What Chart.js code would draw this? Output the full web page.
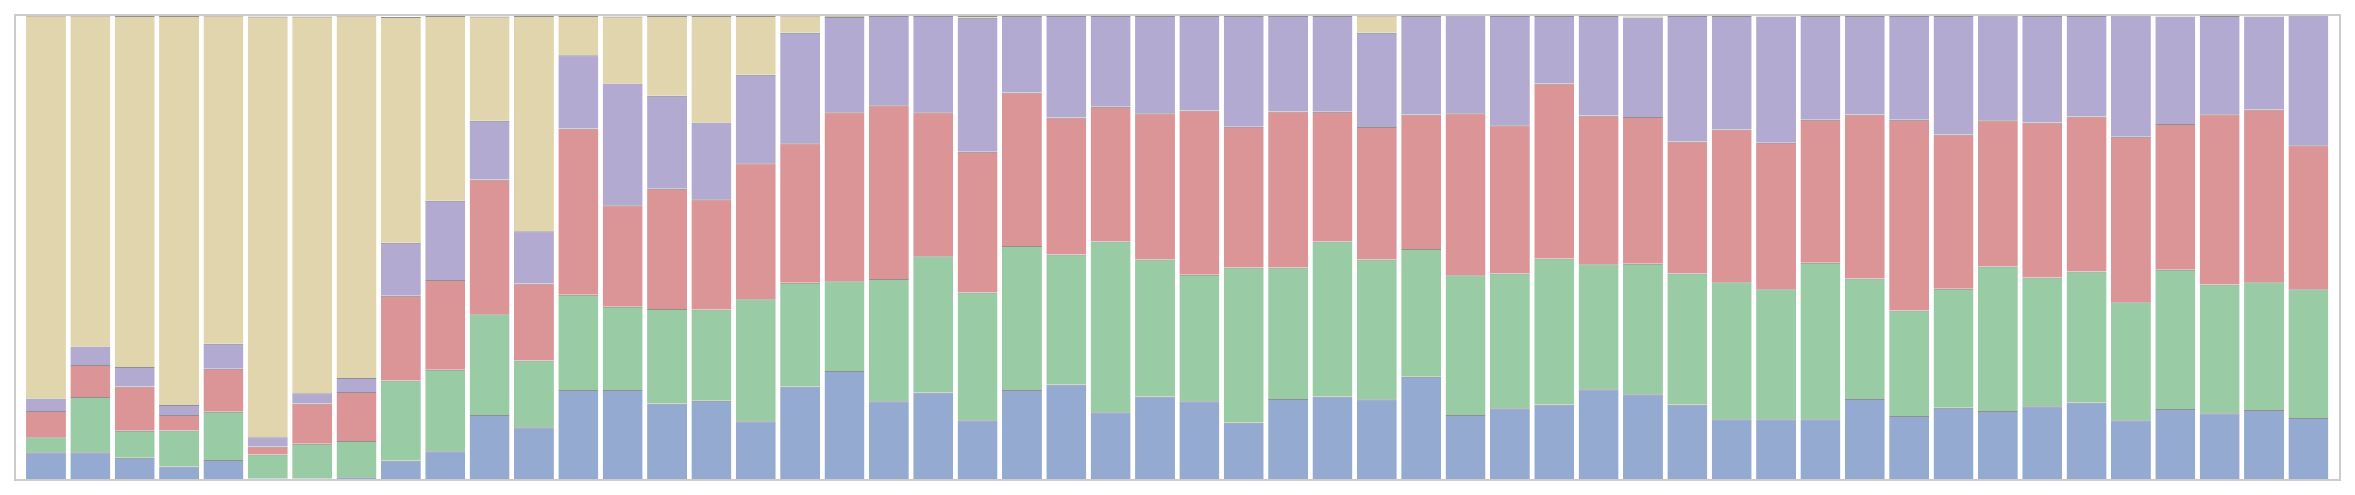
<!DOCTYPE html>
<html>
<head>
<meta charset="utf-8">
<script src="https://cdn.jsdelivr.net/npm/chart.js@4/dist/chart.umd.min.js"></script>
<style>
  html, body { margin: 0; padding: 0; background: #fff; }
</style>
</head>
<body>
<canvas id="shareChart" width="2355" height="495"></canvas>
<script>
// one entry per bar, shares in percent (bottom to top)
const periods = Array.from({ length: 52 }, (_, i) => i + 1)

const blue = [5.8, 5.8, 4.6, 2.7, 4.1, 0.1, 0.1, 0.4, 4.0, 6.0, 13.8, 11.2, 19.2,
    19.2, 16.3, 16.9, 12.5, 20.0, 23.3, 16.8, 18.7, 12.7, 19.2, 20.4, 14.4, 17.8,
    16.8, 12.2, 17.3, 17.8, 17.2, 22.1, 13.8, 15.3, 16.1, 19.4, 18.3, 16.1, 12.9,
    12.9, 12.9, 17.3, 13.6, 15.4, 14.7, 15.7, 16.5, 12.7, 15.1, 14.2, 14.9, 13.2]

const green = [3.2, 11.9, 5.8, 7.8, 10.4, 5.2, 7.5, 7.8, 17.3, 17.6, 21.8, 14.4, 20.6,
    18.0, 20.4, 19.7, 26.3, 22.4, 19.4, 26.4, 29.4, 27.6, 31.1, 28.1, 36.9, 29.6,
    27.3, 33.5, 28.4, 33.5, 30.2, 27.6, 30.2, 29.1, 31.5, 27.0, 28.2, 28.3, 29.6,
    28.1, 33.8, 26.0, 22.8, 25.7, 31.2, 27.8, 28.3, 25.5, 30.1, 27.8, 27.6, 27.8]

const red = [5.7, 6.9, 9.6, 3.3, 9.3, 1.7, 8.7, 10.6, 18.3, 19.4, 29.1, 16.6, 35.9,
    21.9, 26.0, 23.8, 29.4, 30.1, 36.5, 37.5, 31.1, 30.4, 33.2, 29.6, 29.1, 31.6,
    35.5, 30.4, 33.7, 28.0, 28.6, 29.0, 35.0, 32.0, 37.8, 32.1, 31.7, 28.5, 33.0,
    31.6, 30.9, 35.4, 41.2, 33.3, 31.6, 33.5, 33.5, 35.7, 31.5, 36.8, 37.3, 31.1]

const purple = [2.7, 4.0, 4.2, 2.2, 5.4, 2.0, 2.2, 3.0, 11.4, 17.1, 12.7, 11.3, 15.8,
    26.3, 20.1, 16.6, 19.1, 23.9, 20.6, 19.3, 20.8, 28.9, 16.5, 21.9, 19.6, 21.0,
    20.4, 23.9, 20.6, 20.7, 20.4, 21.3, 21.1, 23.6, 14.6, 21.5, 21.5, 27.1, 24.5,
    27.3, 22.4, 21.3, 22.4, 25.6, 22.6, 23.0, 21.7, 26.2, 23.2, 21.2, 20.1, 28.0]

const tan = [82.7, 71.5, 75.8, 84.0, 70.9, 90.9, 81.4, 78.3, 48.8, 39.9, 22.5, 46.5, 8.5,
    14.5, 17.2, 23.0, 12.7, 3.7, 0.2, 0, 0, 0.4, 0, 0, 0, 0,
    0, 0, 0, 0, 3.7, 0, 0, 0, 0, 0, 0.2, 0, 0,
    0, 0, 0, 0, 0, 0, 0, 0, 0, 0, 0, 0, 0]

const seriesNames = ['A', 'B', 'C', 'D', 'E']
const seriesValues = [blue, green, red, purple, tan]
const seriesColors = [
    'rgba(76, 114, 176, 0.6)',
    'rgba(85, 168, 104, 0.6)',
    'rgba(196, 78, 82, 0.6)',
    'rgba(129, 114, 178, 0.6)',
    'rgba(204, 185, 116, 0.6)'
]

const framePlugin = {
    id: 'frame',
    afterDatasetsDraw(chart) {
        const { ctx, chartArea: a } = chart
        ctx.save()
        ctx.strokeStyle = '#cccccc'
        ctx.lineWidth = 2
        ctx.strokeRect(a.left - 1, a.top - 1, a.right - a.left + 2, a.bottom - a.top + 2)
        ctx.restore()
    }
}

const data = {
    datasets: seriesValues.map((values, s) => ({
        label: seriesNames[s],
        data: values.map((v, i) => ({ x: periods[i], y: v })),
        backgroundColor: seriesColors[s],
        borderColor: 'rgba(70, 70, 70, 0.6)',
        borderWidth: { top: 1, left: 0, right: 0, bottom: 0 },
        borderSkipped: false,
        barPercentage: 0.9,
        categoryPercentage: 1
    }))
}

const options = {
    responsive: false,
    animation: false,
    layout: { padding: { left: 16, right: 16, top: 16, bottom: 16 } },
    plugins: {
        legend: { display: false },
        tooltip: { enabled: false }
    },
    scales: {
        x: { type: 'linear', stacked: true, offset: false, min: 0.324, max: 52.69, display: false },
        y: { stacked: true, min: 0, max: 100, display: false }
    }
}

new Chart('shareChart', { type: 'bar', data, options, plugins: [framePlugin] })
</script>
</body>
</html>
